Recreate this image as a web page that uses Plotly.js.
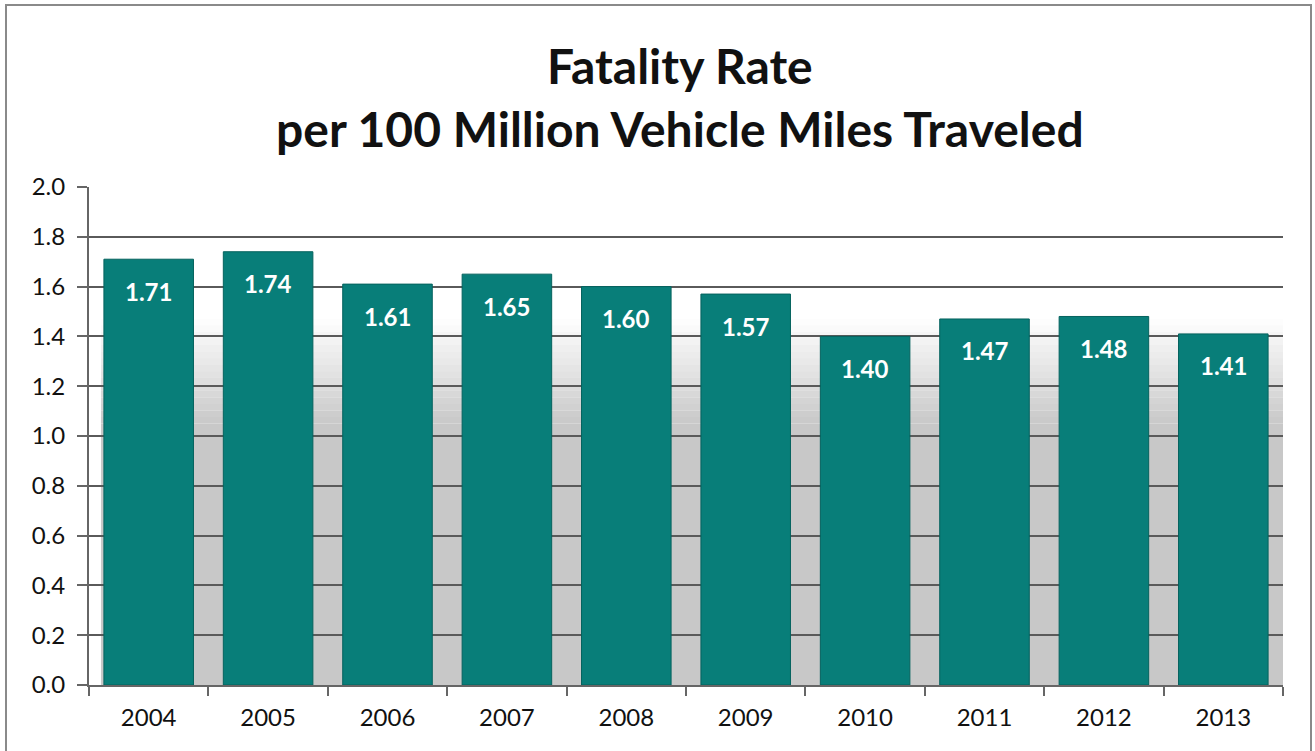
<!DOCTYPE html>
<html>
<head>
<meta charset="utf-8">
<script src="https://cdn.plot.ly/plotly-3.0.1.min.js"></script>
<style>
html,body{margin:0;padding:0;background:#fff;}
#chart{width:1315px;height:751px;}
#frame{position:absolute;left:5px;top:4px;width:1303px;height:760px;border:2px solid #8a8a8a;pointer-events:none;}
</style>
</head>
<body>
<div id="chart"></div>
<div id="frame"></div>
<script>
const years = ['2004','2005','2006','2007','2008','2009','2010','2011','2012','2013'];
const rates = [1.71, 1.74, 1.61, 1.65, 1.60, 1.57, 1.40, 1.47, 1.48, 1.41];
const yTicks = [0,0.2,0.4,0.6,0.8,1.0,1.2,1.4,1.6,1.8,2.0];
const yTickText = yTicks.map(v => v.toFixed(1));

// soft gray shadow behind bars (decoration)
const shapes = [];
shapes.push({type:'rect', layer:'below', xref:'paper', yref:'y', x0:0.01, x1:1, y0:0, y1:1.05,
  fillcolor:'#c8c8c8', line:{width:0}});
const steps = 16;
for (let i = 0; i < steps; i++) {
  const a = 1 - (i + 0.5) / steps;
  shapes.push({type:'rect', layer:'below', xref:'paper', yref:'y', x0:0.01, x1:1,
    y0:1.05 + i * 0.42 / steps, y1:1.05 + (i + 1) * 0.42 / steps,
    fillcolor:'rgba(200,200,200,' + a.toFixed(3) + ')', line:{width:0}});
}

const annotations = years.map((yr, i) => ({
  x: i, y: rates[i], xref:'x', yref:'y', text: rates[i].toFixed(2), showarrow:false,
  yshift:-32, font:{family:'Lato, "Open Sans", sans-serif', size:24, color:'#ffffff', weight:'bold'}
}));

const trace = {
  type:'bar', x: years, y: rates,
  marker:{color:'#087e79', line:{color:'#05625e', width:1}},
  hoverinfo:'x+y'
};

const layout = {
  width:1315, height:751,
  margin:{l:89, r:32, t:187, b:66},
  paper_bgcolor:'#ffffff', plot_bgcolor:'#ffffff',
  bargap:0.25,
  showlegend:false,
  title:{text:'<b>Fatality Rate</b><br><b>per 100 Million Vehicle Miles Traveled</b>',
    x:0.517, xanchor:'center', y:0.888, yanchor:'top',
    font:{family:'Lato, "Open Sans", sans-serif', size:48, color:'#111111'}},
  xaxis:{type:'category', tickson:'boundaries', ticks:'outside', ticklen:9, tickwidth:2, tickcolor:'#666',
    showline:true, linecolor:'#666', linewidth:2, showgrid:false, ticklabelstandoff:10,
    tickfont:{family:'Lato, "Open Sans", sans-serif', size:24, color:'#111'}},
  yaxis:{range:[0,2], tickmode:'array', tickvals:yTicks, ticktext:yTickText,
    ticks:'outside', ticklen:10, tickwidth:2, tickcolor:'#666',
    showline:true, linecolor:'#666', linewidth:2,
    showgrid:true, gridcolor:'#5a5a5a', gridwidth:2, zeroline:false,
    ticklabelstandoff:7,
    tickfont:{family:'Lato, "Open Sans", sans-serif', size:24, color:'#111'}},
  shapes: shapes,
  annotations: annotations
};

Plotly.newPlot('chart', [trace], layout, {displayModeBar:false, staticPlot:true});
</script>
</body>
</html>
